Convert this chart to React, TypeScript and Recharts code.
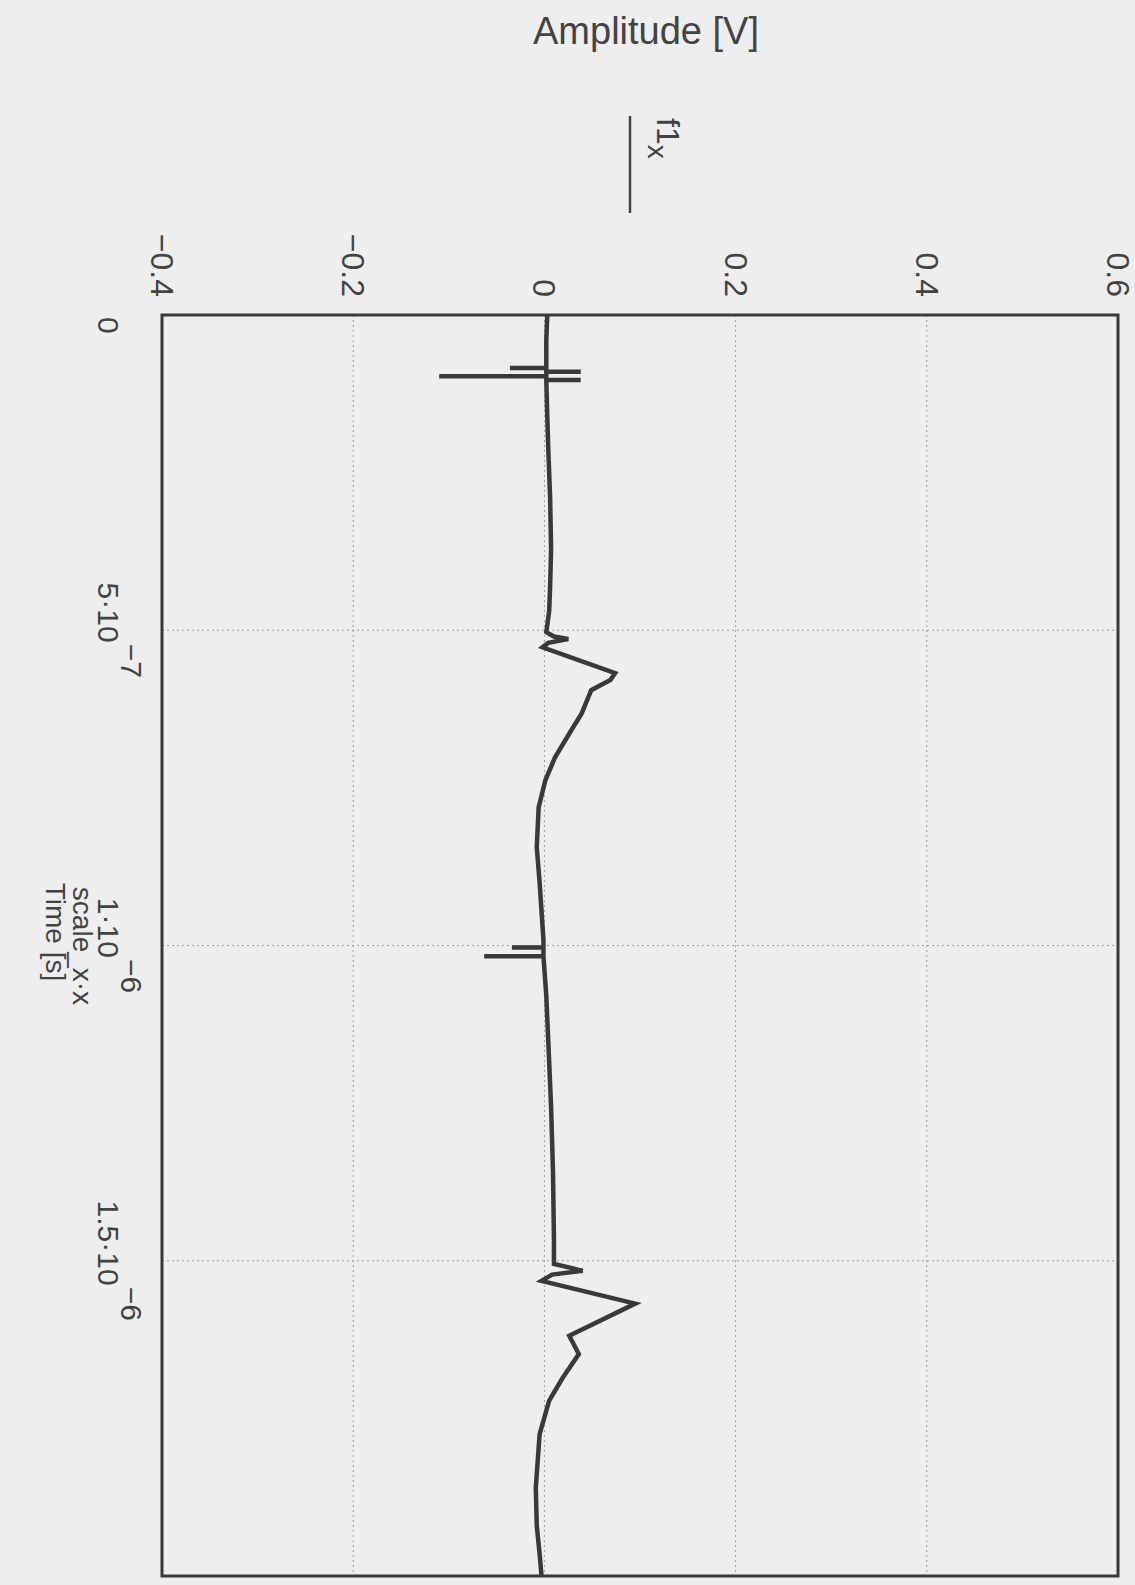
import React from "react";
import { LineChart, Line, XAxis, YAxis, CartesianGrid, ReferenceArea } from "recharts";

// time in microseconds, amplitude in volts
const timeUs = [
  0.0, 0.04, 0.084, 0.084, 0.084, 0.09, 0.09, 0.09, 0.097, 0.097, 0.097, 0.103, 0.103, 0.103,
  0.16, 0.211, 0.29, 0.37, 0.43, 0.47, 0.503, 0.51, 0.514, 0.52, 0.527, 0.568, 0.579, 0.595,
  0.632, 0.659, 0.702, 0.738, 0.781, 0.844, 0.9, 0.991, 1.003, 1.003, 1.003, 1.017, 1.017,
  1.017, 1.08, 1.15, 1.256, 1.36, 1.467, 1.505, 1.512, 1.516, 1.522, 1.532, 1.568, 1.619,
  1.648, 1.686, 1.722, 1.775, 1.86, 1.92, 1.965, 2.0,
];
const amplitudeV = [
  0.003, 0.002, 0.002, -0.036, 0.002, 0.002, 0.038, 0.002, 0.002, -0.11, 0.002, 0.002, 0.038, 0.002,
  0.003, 0.004, 0.006, 0.007, 0.006, 0.005, 0.002, 0.01, 0.025, 0.004, -0.002, 0.074, 0.069, 0.049,
  0.039, 0.028, 0.011, 0.001, -0.006, -0.008, -0.005, -0.001, -0.001, -0.034, -0.001, -0.001, -0.063,
  -0.001, 0.002, 0.004, 0.007, 0.009, 0.01, 0.01, 0.03, 0.04, 0.008, -0.003, 0.095, 0.026,
  0.036, 0.019, 0.005, -0.005, -0.009, -0.008, -0.005, -0.003,
];

const ampTicks = [-0.4, -0.2, 0, 0.2, 0.4, 0.6];
const timeTicks = [0, 0.5, 1, 1.5, 2];
const timeBase = ["0", "5·10", "1·10", "1.5·10", ""];
const timeExp = ["", "−7", "−6", "−6", ""];

const data = timeUs.map((t, i) => ({ t, v: amplitudeV[i] }));

const W = 1135;
const H = 1585;
const FONT = "'Liberation Sans', Arial, sans-serif";
const TEXT = "#434343";

function AmpTick(props: any) {
  const { x, payload } = props;
  const v = payload.value;
  const label = v < 0 ? "−" + Math.abs(v) : String(v);
  const y = 297;
  return (
    <text
      x={x}
      y={y}
      transform={`rotate(90 ${x} ${y})`}
      textAnchor="end"
      dominantBaseline="central"
      fontSize={32}
      fontFamily={FONT}
      fill={TEXT}
    >
      {label}
    </text>
  );
}

function TimeTick(props: any) {
  const { y, payload } = props;
  const i = timeTicks.indexOf(payload.value);
  if (i < 0 || !timeBase[i]) return null;
  const x = 108;
  const first = i === 0;
  const yy = first ? 317 : y;
  return (
    <text
      x={x}
      y={yy}
      transform={`rotate(90 ${x} ${yy})`}
      textAnchor={first ? "start" : "middle"}
      dominantBaseline="central"
      fontSize={30}
      fontFamily={FONT}
      fill={TEXT}
    >
      {timeBase[i]}
      {timeExp[i] && (
        <tspan dy={-24} dx={1}>
          {timeExp[i]}
        </tspan>
      )}
    </text>
  );
}

export default function App() {
  return (
    <div style={{ position: "absolute", left: 0, top: 0, width: W, height: H, background: "#eeeeee" }}>
      <LineChart
        layout="vertical"
        width={W}
        height={H}
        data={data}
        margin={{ top: 275, right: 17, bottom: 9, left: 122 }}
      >
        <CartesianGrid stroke="#9c9c9c" strokeDasharray="2 3" strokeWidth={1} />
        <XAxis
          type="number"
          orientation="top"
          height={40}
          domain={[-0.4, 0.6]}
          ticks={ampTicks}
          allowDataOverflow
          axisLine={false}
          tickLine={false}
          tick={<AmpTick />}
        />
        <YAxis
          type="number"
          dataKey="t"
          width={40}
          domain={[0, 2]}
          ticks={timeTicks}
          allowDataOverflow
          axisLine={false}
          tickLine={false}
          tick={<TimeTick />}
        />
        <ReferenceArea x1={-0.4} x2={0.6} y1={0} y2={2} fill="none" stroke="#3a3a3a" strokeWidth={3} />
        <Line
          type="linear"
          dataKey="v"
          stroke="#393939"
          strokeWidth={4.5}
          dot={false}
          isAnimationActive={false}
        />
      </LineChart>
      <svg width={W} height={H} style={{ position: "absolute", left: 0, top: 0, pointerEvents: "none" }}>
        <text x={646} y={31} textAnchor="middle" dominantBaseline="central" fontSize={38} fontFamily={FONT} fill={TEXT}>
          Amplitude [V]
        </text>
        <line x1={630} y1={116} x2={630} y2={213} stroke="#444" strokeWidth={2.5} />
        <text
          x={668}
          y={118}
          transform="rotate(90 668 118)"
          dominantBaseline="central"
          fontSize={32}
          fontFamily={FONT}
          fill={TEXT}
        >
          f1
          <tspan dy={10} fontSize={28}>x</tspan>
        </text>
        <text
          x={82}
          y={946}
          transform="rotate(90 82 946)"
          textAnchor="middle"
          dominantBaseline="central"
          fontSize={28}
          fontFamily={FONT}
          fill={TEXT}
        >
          scale_x·x
        </text>
        <text
          x={55}
          y={932}
          transform="rotate(90 55 932)"
          textAnchor="middle"
          dominantBaseline="central"
          fontSize={28}
          fontFamily={FONT}
          fill={TEXT}
        >
          Time [s]
        </text>
      </svg>
    </div>
  );
}
